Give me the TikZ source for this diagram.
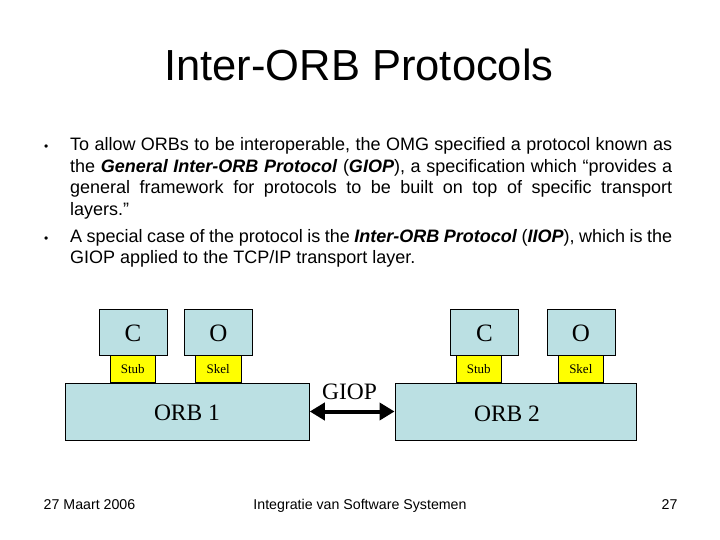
\documentclass[tikz,border=0pt]{standalone}
\usepackage{fontspec}
\setmainfont{Liberation Sans}
\newfontfamily\tms{Liberation Serif}
\usetikzlibrary{arrows.meta}
\definecolor{boxblue}{RGB}{187,224,227}
\definecolor{stubyellow}{RGB}{255,255,0}
\tikzset{
  px/.style={x=1pt,y=-1pt},
  bodyline/.style={anchor=base west,inner sep=0pt,font=\fontsize{18}{21.5}\selectfont},
  bulletmark/.style={anchor=base west,inner sep=0pt,font=\fontsize{12}{14}\selectfont},
  blubox/.style={draw=black,line width=0.8pt,fill=boxblue,inner sep=0pt},
  ylwbox/.style={draw=black,line width=0.8pt,fill=stubyellow,inner sep=0pt,font=\tms\fontsize{13}{15}\selectfont},
  bigtxt/.style={inner sep=0pt,font=\tms\fontsize{25}{28}\selectfont},
  orbtxt/.style={inner sep=0pt,font=\tms\fontsize{23.5}{27}\selectfont},
  footer/.style={anchor=base,inner sep=0pt,font=\fontsize{14.2}{17}\selectfont},
}
\begin{document}
\begin{tikzpicture}[px]
\useasboundingbox[fill=white] (0,0) rectangle (720,540);
% title
\node[anchor=base,inner sep=0pt,font=\fontsize{43.5}{50}\selectfont] (title) at (359,81) {Inter-ORB Protocols};
% bullets
\node[bulletmark] (b1) at (44,151) {•};
\node[bulletmark] (b2) at (44,242) {•};
\node[bodyline] (l1) at (70,151) {\makebox[602pt][s]{To allow ORBs to be interoperable, the OMG specified a protocol known as}};
\node[bodyline] (l2) at (70,172.5) {\makebox[602pt][s]{the \textbf{\textit{General Inter-ORB Protocol}} (\textbf{\textit{GIOP}}), a specification which “provides a}};
\node[bodyline] (l3) at (70,194) {\makebox[602pt][s]{general framework for protocols to be built on top of specific transport}};
\node[bodyline] (l4) at (70,215.5) {layers.”};
\node[bodyline] (l5) at (70,242) {\makebox[602pt][s]{A special case of the protocol is the \textbf{\textit{Inter-ORB Protocol}} (\textbf{\textit{IIOP}}), which is the}};
\node[bodyline] (l6) at (70,263.5) {GIOP applied to the TCP/IP transport layer.};
% left side
\node[blubox,minimum width=68pt,minimum height=46pt] (c1) at (133.3,332) {};
\node[bigtxt] (c1t) at (133,333.5) {C};
\node[ylwbox,minimum width=45.7pt,minimum height=27.7pt] (s1) at (132.8,369) {Stub};
\node[blubox,minimum width=68pt,minimum height=46pt] (o1) at (218.3,332) {};
\node[bigtxt] (o1t) at (218.3,333.5) {O};
\node[ylwbox,minimum width=46.7pt,minimum height=27.7pt] (k1) at (218.3,369) {Skel};
\node[blubox,minimum width=244.3pt,minimum height=57pt] (orb1) at (187.2,411.5) {};
\node[orbtxt] (orb1t) at (187,413) {ORB 1};
% right side
\node[blubox,minimum width=68.3pt,minimum height=46pt] (c2) at (484.2,332) {};
\node[bigtxt] (c2t) at (484.5,333.5) {C};
\node[ylwbox,minimum width=45.7pt,minimum height=27.7pt] (s2) at (478.8,369) {Stub};
\node[blubox,minimum width=67.7pt,minimum height=46pt] (o2) at (581.2,332) {};
\node[bigtxt] (o2t) at (581,333.5) {O};
\node[ylwbox,minimum width=45pt,minimum height=27.7pt] (k2) at (580.8,369) {Skel};
\node[blubox,minimum width=241.7pt,minimum height=57pt] (orb2) at (515.8,411.5) {};
\node[orbtxt] (orb2t) at (507,414) {ORB 2};
% GIOP connector
\node[orbtxt] (giop) at (349.5,392) {GIOP};
\draw[line width=4pt,{Triangle[length=15pt,width=17pt]}-{Triangle[length=15pt,width=17pt]}] (orb1.east) -- (orb2.west);
% footer
\node[footer] (f1) at (89.5,509) {27 Maart 2006};
\node[footer] (f2) at (360,509) {Integratie van Software Systemen};
\node[footer] (f3) at (669.5,509) {27};
\end{tikzpicture}
\end{document}
